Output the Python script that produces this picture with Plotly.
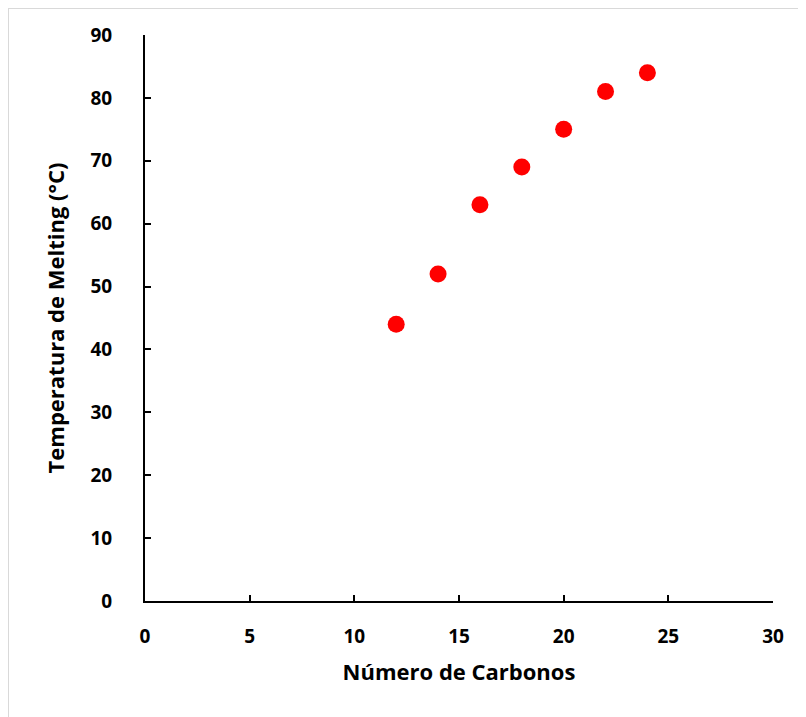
import plotly.graph_objects as go

carbonos = [12, 14, 16, 18, 20, 22, 24]
temperatura = [44, 52, 63, 69, 75, 81, 84]
x_ticks = [0, 5, 10, 15, 20, 25, 30]
y_ticks = [0, 10, 20, 30, 40, 50, 60, 70, 80, 90]

W, H = 806, 717
L, R, T, B = 137, 41, 27, 124
pw, ph = W - L - R, H - T - B

font_family = "'Open Sans', Lato, sans-serif"

fig = go.Figure()
fig.add_trace(go.Scatter(
    x=carbonos, y=temperatura, mode="markers",
    marker=dict(color="#ff0000", size=17, line=dict(width=0)),
    showlegend=False, cliponaxis=False,
))

axis_common = dict(
    showgrid=False, zeroline=False, showline=True, linecolor="black", linewidth=2,
    ticks="inside", ticklen=6, tickwidth=2, tickcolor="black",
    tickfont=dict(family=font_family, size=19, color="black", weight="bold"),
    mirror=False,
)

fig.update_xaxes(
    range=[0, 30], tickvals=x_ticks, ticktext=[str(v) for v in x_ticks],
    ticklabelstandoff=17,
    title=dict(text="<b>Número de Carbonos</b>", font=dict(family=font_family, size=22, color="black"), standoff=17),
    **axis_common,
)
fig.update_yaxes(
    range=[0, 90], tickvals=y_ticks, ticktext=[str(v) for v in y_ticks],
    ticklabelstandoff=27,
    title=dict(text="<b>Temperatura de Melting (°C)</b>", font=dict(family=font_family, size=22, color="black"), standoff=20),
    **axis_common,
)

# light gray outer frame
fig.add_shape(
    type="rect", xref="paper", yref="paper",
    x0=(0 - L) / pw, x1=(W + 20 - L) / pw,
    y0=1 - (H + 20 - T) / ph, y1=1 + T / ph,
    line=dict(color="#d9d9d9", width=2), fillcolor="rgba(0,0,0,0)", layer="below",
)

fig.update_layout(
    width=W, height=H,
    margin=dict(l=L, r=R, t=T, b=B, autoexpand=False),
    paper_bgcolor="white", plot_bgcolor="white",
)

fig.write_html("out.html")
